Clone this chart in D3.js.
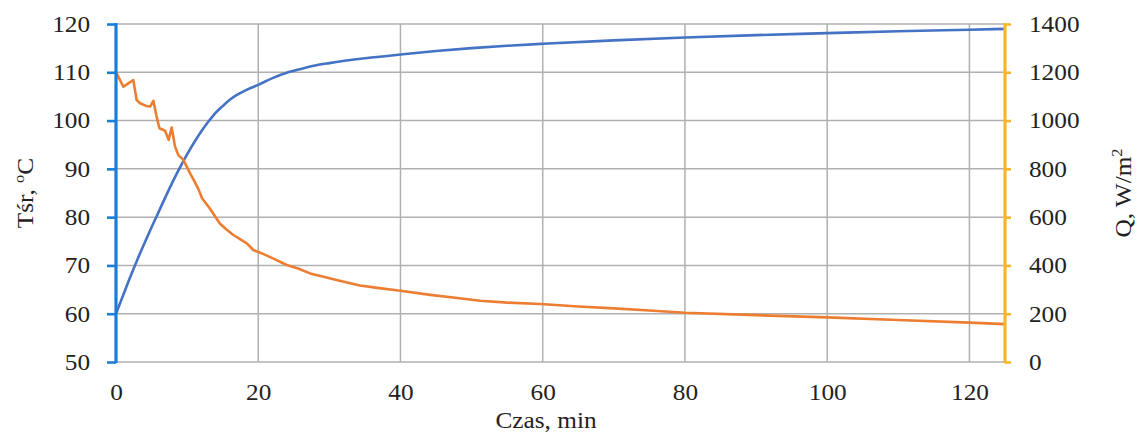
<!DOCTYPE html>
<html>
<head>
<meta charset="utf-8">
<script src="https://cdn.jsdelivr.net/npm/d3@7"></script>
<style>
  html, body { margin: 0; padding: 0; background: #fff; }
  svg text { font-family: "Liberation Serif", "Times New Roman", serif; fill: #222; }
</style>
</head>
<body>
<svg id="chart" width="1141" height="442"></svg>
<script>
// Mean temperature (left axis), time in minutes
const timeT = [0,1,2,3,4,5,6,7,8,9,10,11,12,13,14,15,16,17,18,19,20,22,24,26,28,30,35,40,45,50,55,60,70,80,90,100,110,120,125];
const tempT = [60,63.8,67.6,71.2,74.6,77.9,81.1,84.3,87.4,90.3,93.0,95.5,97.8,99.8,101.6,103.0,104.3,105.3,106.1,106.8,107.4,108.8,109.9,110.7,111.4,111.9,112.9,113.7,114.4,115.0,115.5,115.9,116.6,117.2,117.7,118.1,118.5,118.8,119.0];

// Heat flux density (right axis)
const timeQ = [0,0.2,1.03,1.73,2.43,2.9,3.38,4.32,4.8,5.25,5.72,6.1,6.9,7.4,7.83,8.3,8.77,9.47,10.4,11.0,11.6,12.1,13.2,14.6,15.5,16.5,17.5,18.4,19.3,20.5,22,23.5,24,25.5,27.3,29.2,31,34.3,37,40,44.2,48,51.2,55,59.7,65,70,75,80,90,100,110,120,125];
const fluxQ = [1195,1189,1140,1154,1168,1085,1072,1060,1058,1082,1016,968,958,920,971,892,857,837,782,750,715,678,636,574,550,526,508,491,464,450,430,409,402,388,367,353,340,317,306,295,278,265,254,246,240,230,222,213,204,194,185,174,163,157];

const xTicks = [0,20,40,60,80,100,120];
const yLeftTicks = [50,60,70,80,90,100,110,120];
const yRightTicks = [0,200,400,600,800,1000,1200,1400];

const svg = d3.select("#chart");
const plotL = 116, plotR = 1005, plotT = 24, plotB = 362;
const FONT = "'Liberation Serif', 'Times New Roman', serif";
const FS = 23;
const STRETCH = "scale(1.1,1)";

const x = d3.scaleLinear().domain([0,125]).range([plotL,plotR]);
const yL = d3.scaleLinear().domain([50,120]).range([plotB,plotT]);
const yR = d3.scaleLinear().domain([0,1400]).range([plotB,plotT]);

const grid = "#b0b0b0";
// horizontal gridlines
svg.append("g").selectAll("line").data(yLeftTicks).join("line")
  .attr("x1", plotL).attr("x2", plotR)
  .attr("y1", d => yL(d)).attr("y2", d => yL(d))
  .attr("stroke", grid).attr("stroke-width", 1.5);
// vertical gridlines
svg.append("g").selectAll("line").data(xTicks.filter(d => d > 0)).join("line")
  .attr("x1", d => x(d)).attr("x2", d => x(d))
  .attr("y1", plotT).attr("y2", plotB)
  .attr("stroke", grid).attr("stroke-width", 1.5);

// series lines
const lineT = d3.line().x((d,i) => x(timeT[i])).y(d => yL(d)).curve(d3.curveMonotoneX);
const lineQ = d3.line().x((d,i) => x(timeQ[i])).y(d => yR(d));

svg.append("path").datum(tempT).attr("d", lineT)
  .attr("fill","none").attr("stroke","#4472C4").attr("stroke-width",2.6);
svg.append("path").datum(fluxQ).attr("d", lineQ)
  .attr("fill","none").attr("stroke","#ED7D31").attr("stroke-width",2.6).attr("stroke-linejoin","round");

function styleTicks(g) {
  g.attr("font-family", FONT).attr("font-size", FS);
  g.selectAll(".tick text")
    .style("font-family", FONT).style("font-size", FS + "px")
    .attr("fill","#222").attr("transform", STRETCH);
}

// left axis
const axL = svg.append("g").attr("transform", `translate(${plotL},0)`)
  .call(d3.axisLeft(yL).tickValues(yLeftTicks).tickFormat(d3.format("d")).tickSize(9).tickPadding(14.6));
axL.select(".domain").attr("stroke","#1a7ed6").attr("stroke-width",3.2).attr("d", `M0,${plotB+1}V${plotT-1}`);
axL.selectAll(".tick line").attr("stroke","#1a7ed6").attr("stroke-width",2.6);
styleTicks(axL);

// right axis
const axR = svg.append("g").attr("transform", `translate(${plotR},0)`)
  .call(d3.axisRight(yR).tickValues(yRightTicks).tickFormat(d3.format("d")).tickSize(6).tickPadding(15.8));
axR.select(".domain").attr("stroke","#F7B52C").attr("stroke-width",3.2).attr("d", `M0,${plotB+1}V${plotT-1}`);
axR.selectAll(".tick line").attr("stroke","#F7B52C").attr("stroke-width",2.6);
styleTicks(axR);

// bottom axis labels (the 50-gridline acts as the base line)
const axB = svg.append("g").attr("transform", `translate(0,${plotB})`)
  .call(d3.axisBottom(x).tickValues(xTicks).tickFormat(d3.format("d")).tickSize(0).tickPadding(21.5));
axB.select(".domain").remove();
styleTicks(axB);

// axis titles
svg.append("text").attr("transform","translate(546,428) scale(1.1,1)").attr("text-anchor","middle")
  .style("font-size", FS + "px").text("Czas, min");

const tl = svg.append("text").attr("transform","translate(33,193) rotate(-90) scale(1.1,1)")
  .attr("text-anchor","middle").style("font-size", FS + "px");
tl.append("tspan").text("Tśr, ");
tl.append("tspan").style("font-size","15px").attr("dy",-9).text("o");
tl.append("tspan").attr("dy",9).text("C");

const tr = svg.append("text").attr("transform","translate(1131,193) rotate(-90) scale(1.1,1)")
  .attr("text-anchor","middle").style("font-size", FS + "px");
tr.append("tspan").text("Q, W/m");
tr.append("tspan").style("font-size","15px").attr("dy",-9).text("2");
</script>
</body>
</html>
